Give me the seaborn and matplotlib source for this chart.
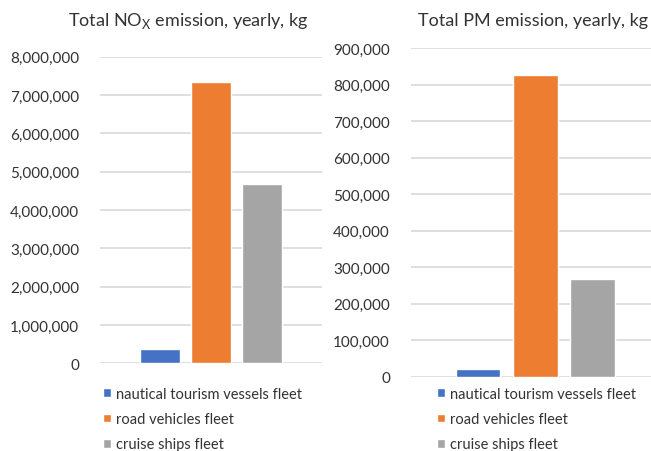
import matplotlib
matplotlib.use("Agg")
import matplotlib.pyplot as plt
import seaborn as sns
import pandas as pd
from matplotlib.ticker import FuncFormatter

# Yearly emissions by fleet, kg
fleets = ["nautical tourism vessels fleet", "road vehicles fleet", "cruise ships fleet"]
nox_kg = [370000, 7340000, 4680000]
pm_kg = [21000, 828000, 268000]
nox_ticks = list(range(0, 8000001, 1000000))
pm_ticks = list(range(0, 900001, 100000))
colors = ["#4472C4", "#ED7D31", "#A5A5A5"]

sns.set_theme(style="white")
plt.rcParams["font.family"] = ["Lato", "DejaVu Sans"]
plt.rcParams["mathtext.fontset"] = "custom"
plt.rcParams["mathtext.rm"] = "Lato"

text_color = "#333333"
grid_color = "#D9D9D9"

fig = plt.figure(figsize=(6.51, 4.52), dpi=100)
ax1 = fig.add_axes([0.1536, 0.194, 0.341, 0.678])
ax2 = fig.add_axes([0.631, 0.1644, 0.3825, 0.7266])


def draw_panel(ax, values, ticks):
    df = pd.DataFrame({"fleet": fleets, "kg": values})
    sns.barplot(data=df, x="fleet", y="kg", hue="fleet", palette=colors,
                width=0.78, saturation=1, legend=False, ax=ax, zorder=3)
    ax.set_xlim(-1.18, 3.18)
    ax.set_ylim(ticks[0], ticks[-1])
    ax.set_yticks(ticks)
    ax.yaxis.set_major_formatter(FuncFormatter(lambda v, _: f"{int(v):,}"))
    ax.set_xticks([])
    ax.set_xlabel("")
    ax.set_ylabel("")
    ax.yaxis.grid(True, color=grid_color, linewidth=1.2, zorder=0)
    ax.set_axisbelow(True)
    for s in ax.spines.values():
        s.set_visible(False)
    ax.tick_params(axis="y", length=0, pad=15, labelsize=11, labelcolor=text_color)
    return ax.patches[:3]


h1 = draw_panel(ax1, nox_kg, nox_ticks)
h2 = draw_panel(ax2, pm_kg, pm_ticks)

fig.text(0.290, 0.953, "Total NO$_\\mathregular{X}$ emission, yearly, kg",
         ha="center", va="center", fontsize=13, color=text_color)
fig.text(0.819, 0.953, "Total PM emission, yearly, kg",
         ha="center", va="center", fontsize=13, color=text_color)

for handles, x in ((h1, 0.158), (h2, 0.671)):
    fig.legend(handles, fleets, loc="upper left", bbox_to_anchor=(x, 0.1416),
               frameon=False, fontsize=10.5, handlelength=0.55, handleheight=0.55,
               handletextpad=0.35, labelspacing=0.77, borderpad=0, borderaxespad=0,
               labelcolor=text_color)

fig.savefig("out.png", dpi=100)
